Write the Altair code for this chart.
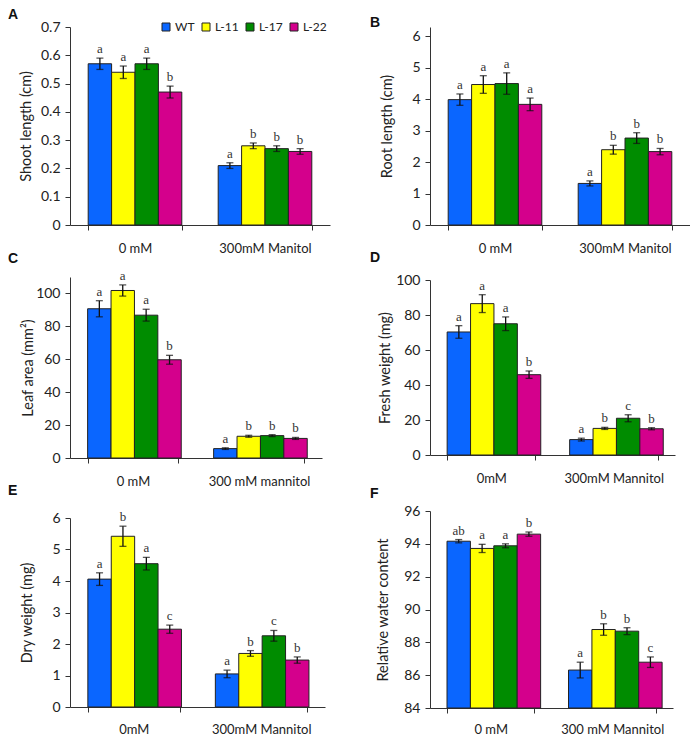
import altair as alt
import pandas as pd

lines = ["WT", "L-11", "L-17", "L-22"]
colors = ["#0A66FF", "#FFFF00", "#008C00", "#D4008C"]

# Panel A - shoot length
a_cond = ["0 mM", "300mM Manitol"]
a_mean = [0.57, 0.54, 0.57, 0.47, 0.21, 0.28, 0.27, 0.26]
a_err = [0.02, 0.022, 0.02, 0.021, 0.01, 0.01, 0.01, 0.01]
a_sig = ["a", "a", "a", "b", "a", "b", "b", "b"]

# Panel B - root length
b_cond = ["0 mM", "300mM Manitol"]
b_mean = [3.98, 4.46, 4.49, 3.83, 1.32, 2.39, 2.76, 2.33]
b_err = [0.18, 0.28, 0.34, 0.2, 0.08, 0.14, 0.17, 0.1]
b_sig = ["a", "a", "a", "a", "a", "b", "b", "b"]

# Panel C - leaf area
c_cond = ["0 mM", "300 mM mannitol"]
c_mean = [90.7, 101.8, 86.8, 59.7, 5.7, 13.2, 13.6, 11.9]
c_err = [4.9, 3.4, 3.6, 2.7, 0.5, 0.6, 0.6, 0.6]
c_sig = ["a", "a", "a", "b", "a", "b", "b", "b"]

# Panel D - fresh weight
d_cond = ["0mM", "300mM Mannitol"]
d_mean = [70.3, 86.5, 75.0, 45.9, 8.8, 15.2, 21.0, 15.0]
d_err = [3.6, 5.1, 3.9, 2.1, 0.8, 0.6, 2.0, 0.6]
d_sig = ["a", "a", "a", "b", "a", "b", "c", "b"]

# Panel E - dry weight
e_cond = ["0mM", "300mM Mannitol"]
e_mean = [4.06, 5.42, 4.55, 2.47, 1.05, 1.70, 2.26, 1.49]
e_err = [0.2, 0.32, 0.2, 0.13, 0.12, 0.09, 0.17, 0.1]
e_sig = ["a", "b", "a", "c", "a", "b", "c", "b"]

# Panel F - relative water content
f_cond = ["0 mM", "300 mM Mannitol"]
f_mean = [94.16, 93.72, 93.88, 94.59, 86.31, 88.78, 88.68, 86.79]
f_err = [0.1, 0.25, 0.12, 0.13, 0.48, 0.35, 0.21, 0.32]
f_sig = ["ab", "a", "a", "b", "a", "b", "b", "c"]

FONT = "Lato"


def panel(letter, conds, means, errs, sigs, ytitle, domain, ticks, w, h,
          toff, tdx, ytx, fmt=None, legend=False, xpad=12, tdy=0):
    df = pd.DataFrame({
        "cond": [c for c in conds for _ in lines],
        "line": lines * 2,
        "mean": means,
        "lo": [m - e for m, e in zip(means, errs)],
        "hi": [m + e for m, e in zip(means, errs)],
        "sig": sigs,
        "base": [domain[0]] * 8,
    })
    base = alt.Chart(df)
    x = alt.X("cond:N", sort=conds,
              scale=alt.Scale(paddingInner=0.28, paddingOuter=0.14),
              axis=alt.Axis(title=None, labelAngle=0, tickBand="extent",
                            tickSize=5, labelPadding=xpad, labelFontSize=13))
    xo = alt.XOffset("line:N", sort=lines,
                     scale=alt.Scale(paddingInner=0, paddingOuter=0))
    ys = alt.Scale(domain=domain, nice=False, zero=False)
    axis_kw = dict(values=ticks, grid=False, title=ytitle, tickSize=5,
                   labelPadding=5, titleX=ytx, titleBaseline="middle",
                   titleFontSize=14.5, titleFontWeight="normal",
                   labelFontSize=14)
    if fmt:
        axis_kw["format"] = fmt
    yaxis = alt.Axis(**axis_kw)
    if legend:
        leg = alt.Legend(title=None, orient="none", legendX=90, legendY=-6,
                         direction="horizontal", symbolType="square",
                         symbolSize=64, symbolStrokeWidth=1,
                         labelFont=FONT, labelFontSize=12, labelOffset=3,
                         columnPadding=5, labelColor="#222")
        color = alt.Color("line:N", sort=lines,
                          scale=alt.Scale(domain=lines, range=colors), legend=leg)
    else:
        color = alt.Color("line:N", sort=lines,
                          scale=alt.Scale(domain=lines, range=colors), legend=None)

    def yenc(field):
        return alt.Y(field, type="quantitative", scale=ys, axis=yaxis)

    bars = base.mark_bar(stroke="#222", strokeWidth=1).encode(
        x=x, xOffset=xo, y=yenc("mean"), y2="base:Q", color=color)
    rule = base.mark_rule(color="#111", strokeWidth=1.3).encode(
        x=x, xOffset=xo, y=yenc("lo"), y2="hi:Q")
    cap_lo = base.mark_tick(color="#111", thickness=1.3, size=7).encode(
        x=x, xOffset=xo, y=yenc("lo"))
    cap_hi = base.mark_tick(color="#111", thickness=1.3, size=7).encode(
        x=x, xOffset=xo, y=yenc("hi"))
    txt = base.mark_text(font="Liberation Serif", fontSize=13,
                         baseline="alphabetic", dy=-5, color="#333").encode(
        x=x, xOffset=xo, y=yenc("hi"), text="sig:N")
    return alt.layer(bars, rule, cap_lo, cap_hi, txt).properties(
        width=w, height=h,
        title=alt.Title(letter, anchor="start", frame="group", dx=tdx,
                        dy=tdy, offset=toff, fontSize=14,
                        font="Liberation Sans", fontWeight="bold",
                        color="#111"))


A = panel("A", a_cond, a_mean, a_err, a_sig, "Shoot length (cm)", [0, 0.7],
          [0, 0.1, 0.2, 0.3, 0.4, 0.5, 0.6, 0.7], 260, 198, -10, -62, -44,
          fmt=".1~f", legend=True, tdy=-8)
B = panel("B", b_cond, b_mean, b_err, b_sig, "Root length (cm)", [0, 6.286],
          [0, 1, 2, 3, 4, 5, 6], 260, 198, -10, -60, -43, tdy=-7)
C = panel("C", c_cond, c_mean, c_err, c_sig, "Leaf area (mm²)", [0, 110],
          [0, 20, 40, 60, 80, 100], 252, 181, 4, -62, -42)
D = panel("D", d_cond, d_mean, d_err, d_sig, "Fresh weight (mg)", [0, 100],
          [0, 20, 40, 60, 80, 100], 245, 175, 8, -60, -45)
E = panel("E", e_cond, e_mean, e_err, e_sig, "Dry weight (mg)", [0, 6],
          [0, 1, 2, 3, 4, 5, 6], 255, 189, 13, -62, -43, xpad=11)
F = panel("F", f_cond, f_mean, f_err, f_sig, "Relative water  content", [84, 96],
          [84, 86, 88, 90, 92, 94, 96], 243, 197, 3, -60, -47, xpad=10)

chart = alt.concat(A, B, C, D, E, F, columns=2,
                   spacing={"row": -4, "column": 40}).resolve_scale(
    color="independent", x="independent", y="independent"
).resolve_legend(color="independent").properties(
    align={"row": "none", "column": "each"}, bounds="full",
    padding={"left": 0, "top": 0, "right": 0, "bottom": 0}
).configure_axis(
    labelFont=FONT, titleFont=FONT, labelColor="#222", titleColor="#222",
    domainColor="#333", tickColor="#333", labelFontSize=13
).configure_view(stroke=None)

chart.save("out.html", embed_options={"renderer": "svg", "actions": False})
